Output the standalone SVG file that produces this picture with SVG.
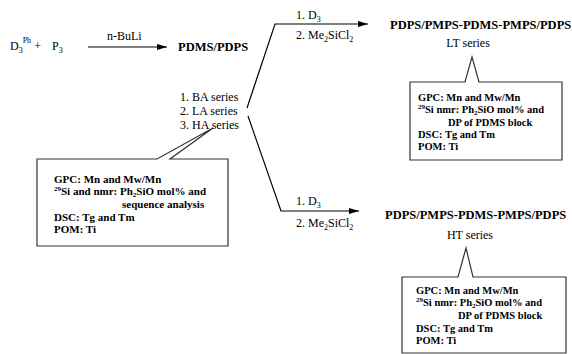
<svg xmlns="http://www.w3.org/2000/svg" width="572" height="354" viewBox="0 0 572 354">
<style>
text{font-family:"Liberation Serif","Times New Roman",serif;fill:#000}
.r{font-size:12px}
.t{font-size:12.5px;font-weight:bold}
.b{font-size:11px;font-weight:bold}
.bs{font-size:10.5px;font-weight:bold}
.ln{stroke:#000;stroke-width:1.2;fill:none}
.box{stroke:#333;stroke-width:1.2;fill:#fff}
</style>
<defs>
<marker id="ah" viewBox="0 0 10 6" refX="10" refY="3" markerWidth="10" markerHeight="6" markerUnits="userSpaceOnUse" orient="auto">
<path d="M0,0 L10,3 L0,6 Z" fill="#000"/>
</marker>
</defs>
<g id="connectors">
<line class="ln" x1="88" y1="47" x2="167" y2="47" marker-end="url(#ah)"/>
<polyline class="ln" points="247,108 275,24 368,24" marker-end="url(#ah)"/>
<polyline class="ln" points="248,116 281,211 359,211" marker-end="url(#ah)"/>
</g>
<g id="reactants">
<text class="r" x="10" y="50">D<tspan font-size="8" dy="3">3</tspan><tspan font-size="8" dy="-10">Ph</tspan><tspan dy="7"> + </tspan><tspan x="52">P</tspan><tspan font-size="8" dy="3">3</tspan></text>
<text class="r" x="107" y="40">n-BuLi</text>
</g>
<g id="pdms-pdps">
<text class="t" x="178" y="51">PDMS/PDPS</text>
<text class="r" x="180" y="101">1. BA series</text>
<text class="r" x="180" y="115">2. LA series</text>
<text class="r" x="180" y="129">3. HA series</text>
</g>
<g id="label-upper">
<text class="r" x="296" y="19">1. D<tspan font-size="8" dy="3">3</tspan></text>
<text class="r" x="296" y="39">2. Me<tspan font-size="8" dy="3">2</tspan><tspan dy="-3">SiCl</tspan><tspan font-size="8" dy="3">2</tspan></text>
</g>
<g id="label-lower">
<text class="r" x="296" y="205">1. D<tspan font-size="8" dy="3">3</tspan></text>
<text class="r" x="296" y="227">2. Me<tspan font-size="8" dy="3">2</tspan><tspan dy="-3">SiCl</tspan><tspan font-size="8" dy="3">2</tspan></text>
</g>
<g id="box-left">
<path class="box" d="M37,159 L157,159 L213,128 L170,159 L228,159 L228,246 L37,246 Z"/>
<text class="b" x="54" y="183">GPC: Mn and Mw/Mn</text>
<text class="b" x="54" y="195"><tspan font-size="7" dy="-4">29</tspan><tspan dy="4">Si and nmr: Ph</tspan><tspan font-size="7" dy="2">2</tspan><tspan dy="-2">SiO mol% and</tspan></text>
<text class="b" x="122" y="208">sequence analysis</text>
<text class="b" x="54" y="221">DSC: Tg and Tm</text>
<text class="b" x="54" y="233">POM: Ti</text>
</g>
<g id="product-lt">
<text class="t" x="390" y="29">PDPS/PMPS-PDMS-PMPS/PDPS</text>
<text class="r" x="468" y="47" text-anchor="middle">LT series</text>
</g>
<g id="box-lt">
<path class="box" d="M410,82 L465,82 L472,57 L479,82 L562,82 L562,160 L410,160 Z"/>
<text class="bs" x="418" y="101">GPC: Mn and Mw/Mn</text>
<text class="bs" x="418" y="113"><tspan font-size="7" dy="-4">29</tspan><tspan dy="4">Si nmr: Ph</tspan><tspan font-size="7" dy="2">2</tspan><tspan dy="-2">SiO mol% and</tspan></text>
<text class="bs" x="448" y="126">DP of PDMS block</text>
<text class="bs" x="418" y="138">DSC: Tg and Tm</text>
<text class="bs" x="418" y="150">POM: Ti</text>
</g>
<g id="product-ht">
<text class="t" x="385" y="219">PDPS/PMPS-PDMS-PMPS/PDPS</text>
<text class="r" x="470" y="239" text-anchor="middle">HT series</text>
</g>
<g id="box-ht">
<path class="box" d="M402,277 L458,277 L466,248 L473,277 L566,277 L566,353 L402,353 Z"/>
<text class="bs" x="416" y="294">GPC: Mn and Mw/Mn</text>
<text class="bs" x="416" y="306"><tspan font-size="7" dy="-4">29</tspan><tspan dy="4">Si nmr: Ph</tspan><tspan font-size="7" dy="2">2</tspan><tspan dy="-2">SiO mol% and</tspan></text>
<text class="bs" x="458" y="319">DP of PDMS block</text>
<text class="bs" x="416" y="332">DSC: Tg and Tm</text>
<text class="bs" x="416" y="344">POM: Ti</text>
</g>
</svg>
